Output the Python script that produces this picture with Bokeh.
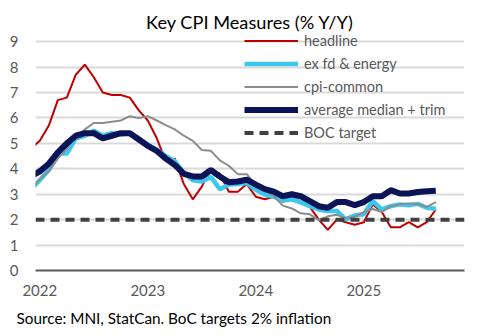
from bokeh.plotting import figure
from bokeh.models import Range1d, FixedTicker, Legend, LegendItem, Title
from bokeh.embed import file_html
from bokeh.resources import INLINE

# month index: 0 = Jan 2022 (series start Dec 2021 = -1)
months = list(range(-1, 45))
year_ticks = [0, 12, 24, 36]
year_labels = ["2022", "2023", "2024", "2025"]
y_ticks = [0, 1, 2, 3, 4, 5, 6, 7, 8, 9]

headline = [4.8,
            5.1, 5.7, 6.7, 6.8, 7.7, 8.1, 7.6, 7.0, 6.9, 6.9, 6.8, 6.3,
            5.9, 5.2, 4.3, 4.4, 3.4, 2.8, 3.3, 4.0, 3.8, 3.1, 3.1, 3.4,
            2.9, 2.8, 2.9, 2.7, 2.9, 2.7, 2.5, 2.0, 1.6, 2.0, 1.9, 1.8,
            1.9, 2.6, 2.3, 1.7, 1.7, 1.9, 1.7, 1.9, 2.4]
ex_food_energy = [3.2,
                  3.55, 3.95, 4.6, 4.6, 5.2, 5.3, 5.5, 5.3, 5.4, 5.35, 5.4, 5.2,
                  4.95, 4.75, 4.5, 4.3, 3.85, 3.55, 3.5, 3.68, 3.2, 3.38, 3.4, 3.44,
                  3.18, 2.99, 2.9, 2.75, 2.8, 2.68, 2.53, 2.4, 2.34, 2.34, 2.01, 2.17,
                  2.21, 2.73, 2.4, 2.53, 2.6, 2.57, 2.62, 2.47, 2.43]
cpi_common = [3.15,
              3.6, 3.9, 4.4, 4.8, 5.25, 5.55, 5.8, 5.8, 5.85, 5.9, 6.07, 6.0,
              6.07, 5.9, 5.72, 5.55, 5.3, 5.1, 4.74, 4.71, 4.33, 4.12, 3.79, 3.79,
              3.35, 3.15, 2.92, 2.55, 2.44, 2.25, 2.21, 1.98, 2.13, 2.19, 2.06, 2.11,
              2.3, 2.42, 2.3, 2.53, 2.61, 2.64, 2.62, 2.5, 2.69]
median_trim = [3.7,
               3.9, 4.2, 4.65, 5.0, 5.3, 5.4, 5.4, 5.2, 5.3, 5.4, 5.4, 5.15,
               4.9, 4.7, 4.4, 4.15, 3.8, 3.7, 3.7, 3.95, 3.7, 3.47, 3.5, 3.57,
               3.38, 3.2, 3.1, 2.92, 3.0, 2.92, 2.73, 2.53, 2.47, 2.69, 2.69, 2.57,
               2.69, 2.92, 2.92, 3.16, 3.03, 3.03, 3.09, 3.12, 3.14]
boc_target = 2.0

FONT = "Lato"

x_range = Range1d(-0.48, 47.19)
y_range = Range1d(0, 9.4)

p = figure(width=486, height=335, output_backend="svg", toolbar_location=None,
           x_range=x_range, y_range=y_range,
           min_border_left=35, min_border_right=22, min_border_top=31,
           min_border_bottom=63, outline_line_color=None,
           background_fill_color="white", border_fill_color="white")

p.xgrid.grid_line_color = None
p.ygrid.grid_line_color = "#d9d9d9"
p.ygrid.grid_line_width = 2
p.ygrid.ticker = FixedTicker(ticks=y_ticks)

p.yaxis.ticker = FixedTicker(ticks=y_ticks)
p.yaxis.axis_line_color = None
p.yaxis.major_tick_line_color = None
p.yaxis.minor_tick_line_color = None
p.yaxis.major_tick_out = 0
p.yaxis.major_tick_in = 0
p.yaxis.minor_tick_out = 0
p.yaxis.major_label_standoff = 17
p.yaxis.major_label_text_font = FONT
p.yaxis.major_label_text_font_size = "15px"
p.yaxis.major_label_text_color = "#595959"

p.xaxis.ticker = FixedTicker(ticks=year_ticks)
p.xaxis.major_label_overrides = {t: l for t, l in zip(year_ticks, year_labels)}
p.xaxis.axis_line_color = "#595959"
p.xaxis.axis_line_width = 2
p.xaxis.major_tick_line_color = None
p.xaxis.minor_tick_line_color = None
p.xaxis.major_tick_out = 0
p.xaxis.major_tick_in = 0
p.xaxis.minor_tick_out = 0
p.xaxis.major_label_standoff = 14
p.xaxis.major_label_text_font = FONT
p.xaxis.major_label_text_font_size = "15px"
p.xaxis.major_label_text_color = "#595959"

r_head = p.line(months, headline, line_color="#c00000", line_width=2)
r_exfe = p.line(months, ex_food_energy, line_color="#3cc8ee", line_width=4.5)
r_common = p.line(months, cpi_common, line_color="#8c8c8c", line_width=2)
r_mt = p.line(months, median_trim, line_color="#0b1456", line_width=6)
r_boc = p.line([x_range.start, x_range.end], [boc_target, boc_target],
               line_color="#404040", line_width=4, line_dash="9 6")

legend = Legend(items=[
    LegendItem(label="headline", renderers=[r_head]),
    LegendItem(label="ex fd & energy", renderers=[r_exfe]),
    LegendItem(label="cpi-common", renderers=[r_common]),
    LegendItem(label="average median + trim", renderers=[r_mt]),
    LegendItem(label="BOC target", renderers=[r_boc]),
], location=(209, 127), glyph_width=54, glyph_height=21, label_height=21,
    spacing=2, padding=0, margin=0, label_standoff=6,
    background_fill_alpha=0, border_line_alpha=0,
    label_text_font=FONT, label_text_font_size="14.5px",
    label_text_color="#595959")
p.add_layout(legend, "center")

p.add_layout(Title(text="Key CPI Measures (% Y/Y)", align="center",
                   standoff=-2, text_font=FONT, text_font_size="18.2px",
                   text_font_style="normal", text_color="#000000"), "above")
p.add_layout(Title(text="Source: MNI, StatCan. BoC targets 2% inflation",
                   align="left", offset=-19, standoff=17, text_font=FONT,
                   text_font_size="15.3px", text_font_style="normal",
                   text_color="#000000"), "below")

open("out.html", "w").write(file_html(p, INLINE))
